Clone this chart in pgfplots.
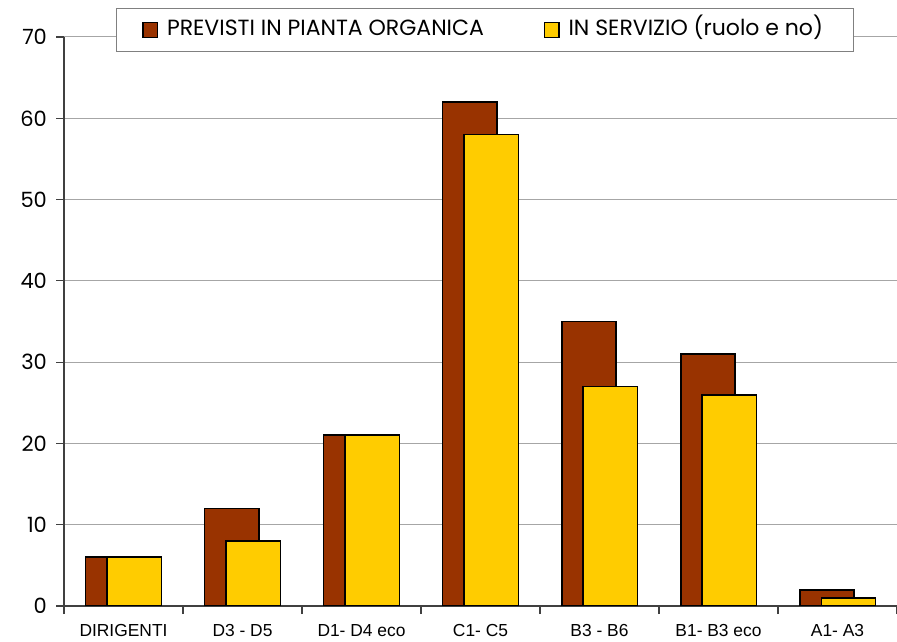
\documentclass[border=0pt]{standalone}
\usepackage{pgfplots}
\pgfplotsset{compat=1.18}
\usepackage{fontspec}
\setmainfont{Liberation Sans}
\newfontfamily\gothic{Poppins}
\definecolor{brownbar}{HTML}{993300}
\definecolor{yellowbar}{HTML}{FFCC00}
\definecolor{gridgray}{HTML}{A6A6A6}
\definecolor{axisgray}{HTML}{404040}
\begin{document}
\begin{tikzpicture}
\begin{axis}[
  name=ax,
  scale only axis,
  width=416.5pt, height=284.5pt,
  xmin=-0.5, xmax=6.5, ymin=0, ymax=70,
  ytick={0,10,...,70},
  ymajorgrids, grid style={gridgray, line width=0.5pt},
  axis lines=left,
  axis line style={axisgray, -, line width=0.7pt},
  xtick={-0.5,0.5,...,6.5},
  x tick label as interval,
  xticklabels={DIRIGENTI, D3 - D5, D1- D4 eco, C1- C5, B3 - B6, B1- B3 eco, A1- A3},
  tick align=outside,
  major tick length=4pt,
  tick style={axisgray, line width=0.6pt},
  /pgf/number format/assume math mode=true,
  yticklabel style={font=\gothic\fontsize{10.5}{12}\selectfont, xshift=-1pt},
  xticklabel style={font=\fontsize{8.7}{10}\selectfont, yshift=-1.5pt},
  legend columns=2,
  legend entries={PREVISTI IN PIANTA ORGANICA, IN SERVIZIO (ruolo e no)},
  legend style={at={(0.0624,1.051)}, anchor=north west, draw=gray, fill=white,
    line width=0.5pt,
    font=\gothic\fontsize{11}{12}\selectfont,
    inner xsep=13pt, inner ysep=3.5pt,
    nodes={text height=8pt, text depth=2.6pt},
    /tikz/every odd column/.append style={column sep=2.5pt},
    /tikz/every even column/.append style={column sep=28pt}},
  legend image code/.code={\draw[#1, line width=0.6pt] (0pt,-3.6pt) rectangle (7.2pt,3.6pt);},
]
\addplot[ybar, bar width=0.454, bar shift=-0.092, fill=brownbar, draw=black, line width=0.95pt]
  coordinates {(0,6) (1,12) (2,21) (3,62) (4,35) (5,31) (6,2)};
\addplot[ybar, bar width=0.454, bar shift=0.092, fill=yellowbar, draw=black, line width=0.95pt]
  coordinates {(0,6) (1,8) (2,21) (3,58) (4,27) (5,26) (6,1)};
\end{axis}
\pgfresetboundingbox
\path ([xshift=-32pt,yshift=-18pt]ax.south west) rectangle ([yshift=18.5pt]ax.north east);
\end{tikzpicture}
\end{document}
